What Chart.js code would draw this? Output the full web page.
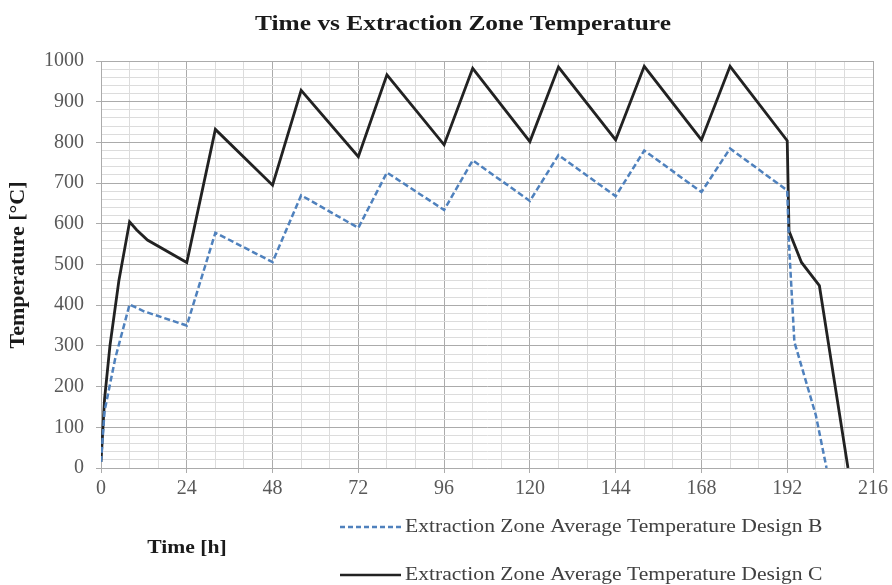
<!DOCTYPE html>
<html>
<head>
<meta charset="utf-8">
<script src="https://cdn.jsdelivr.net/npm/chart.js@4"></script>
<style>
  html, body { margin: 0; padding: 0; background: #fff; }
  #wrap { width: 892px; height: 585px; }
</style>
</head>
<body>
<div id="wrap"><canvas id="chart" width="892" height="585"></canvas></div>
<script>
// Design B (blue dashed)
const timeB = [0, 1, 4, 8, 12, 24, 32, 48, 56, 72, 80, 96, 104, 120, 128, 144, 152, 168, 176, 192, 192.5, 194, 200, 203]
const tempB = [15, 140, 270, 402, 385, 350, 578, 506, 670, 590, 726, 634, 756, 656, 769, 668, 780, 678, 785, 682, 550, 310, 130, 0]
// Design C (black solid)
const timeC = [0, 1, 2.5, 5, 8, 10, 13, 24, 32, 48, 56, 72, 80, 96, 104, 120, 128, 144, 152, 168, 176, 192, 192.5, 196, 201, 209]
const tempC = [15, 170, 300, 460, 605, 585, 560, 505, 832, 695, 928, 765, 966, 794, 982, 802, 985, 806, 987, 806, 987, 804, 582, 505, 448, 0]

const xLabels = [0, 24, 48, 72, 96, 120, 144, 168, 192, 216]
const yLabels = [0, 100, 200, 300, 400, 500, 600, 700, 800, 900, 1000]

const titleText = 'Time vs Extraction Zone Temperature'
const xTitle = 'Time [h]'
const yTitle = 'Temperature [°C]'
const seriesNames = ['Extraction Zone Average Temperature Design B', 'Extraction Zone Average Temperature Design C']

const blue = '#4f81bd'
const black = '#222222'
const serif = '"Liberation Serif", "Times New Roman", serif'

const toPoints = (xs, ys) => xs.map((x, i) => ({ x, y: ys[i] }))

const majorX = v => xLabels.includes(v)
const majorY = v => yLabels.includes(v)

// the source picture is a bit stretched sideways, so text is drawn wider
const wideText = (ctx, text, x, y, sx) => {
  ctx.save()
  ctx.translate(x, y)
  ctx.scale(sx, 1)
  ctx.fillText(text, 0, 0)
  ctx.restore()
}

const textPlugin = {
  id: 'extraText',
  afterDraw(chart) {
    const { ctx } = chart
    ctx.save()
    ctx.fillStyle = '#1a1a1a'
    ctx.textBaseline = 'middle'

    ctx.font = 'bold 21px ' + serif
    ctx.textAlign = 'center'
    wideText(ctx, titleText, 463, 25, 1.21)

    ctx.font = 'bold 18px ' + serif
    wideText(ctx, xTitle, 187, 548, 1.2)

    ctx.save()
    ctx.translate(18, 265)
    ctx.rotate(-Math.PI / 2)
    ctx.font = 'bold 22px ' + serif
    ctx.fillText(yTitle, 0, 0)
    ctx.restore()

    // legend
    ctx.font = '18px ' + serif
    ctx.textAlign = 'left'
    ctx.fillStyle = '#404040'
    const rows = [
      { y: 527, color: blue, dash: [5, 3] },
      { y: 575, color: black, dash: [] }
    ]
    rows.forEach((r, i) => {
      ctx.beginPath()
      ctx.setLineDash(r.dash)
      ctx.strokeStyle = r.color
      ctx.lineWidth = 2.5
      ctx.moveTo(340, r.y)
      ctx.lineTo(401, r.y)
      ctx.stroke()
      wideText(ctx, seriesNames[i], 405, r.y, 1.2)
    })
    ctx.restore()
  }
}

new Chart(document.getElementById('chart'), {
  type: 'line',
  data: {
    datasets: [
      {
        label: seriesNames[0],
        data: toPoints(timeB, tempB),
        borderColor: blue,
        borderWidth: 2.5,
        borderDash: [6, 3],
        pointRadius: 0,
        tension: 0
      },
      {
        label: seriesNames[1],
        data: toPoints(timeC, tempC),
        borderColor: black,
        borderWidth: 2.8,
        pointRadius: 0,
        tension: 0
      }
    ]
  },
  options: {
    responsive: false,
    animation: false,
    devicePixelRatio: 1,
    layout: { padding: { top: 61, right: 19, bottom: 0, left: 0 } },
    plugins: {
      legend: { display: false },
      tooltip: { enabled: false }
    },
    scales: {
      x: {
        type: 'linear',
        min: 0,
        max: 216,
        afterFit: s => { s.height = 117 },
        afterBuildTicks: s => {
          s.ticks = []
          for (let v = 0; v <= 216; v += 8) s.ticks.push({ value: v })
        },
        ticks: {
          autoSkip: false,
          maxRotation: 0,
          padding: 4,
          color: '#595959',
          font: { family: serif, size: 20 },
          callback: v => majorX(v) ? String(v) : ''
        },
        grid: {
          color: c => majorX(c.tick.value) ? '#ababab' : '#dcdcdc',
          tickColor: c => majorX(c.tick.value) ? '#ababab' : 'rgba(0,0,0,0)',
          tickLength: 5,
          lineWidth: 1
        },
        border: { color: '#ababab' }
      },
      y: {
        min: 0,
        max: 1000,
        afterFit: s => { s.width = 101 },
        afterBuildTicks: s => {
          s.ticks = []
          for (let v = 0; v <= 1000; v += 20) s.ticks.push({ value: v })
        },
        ticks: {
          autoSkip: false,
          padding: 12,
          color: '#595959',
          font: { family: serif, size: 20 },
          callback: v => majorY(v) ? String(v) : ''
        },
        grid: {
          color: c => majorY(c.tick.value) ? '#ababab' : '#dcdcdc',
          tickColor: c => majorY(c.tick.value) ? '#ababab' : 'rgba(0,0,0,0)',
          tickLength: 5,
          lineWidth: 1
        },
        border: { color: '#ababab' }
      }
    }
  },
  plugins: [textPlugin]
})
</script>
</body>
</html>
